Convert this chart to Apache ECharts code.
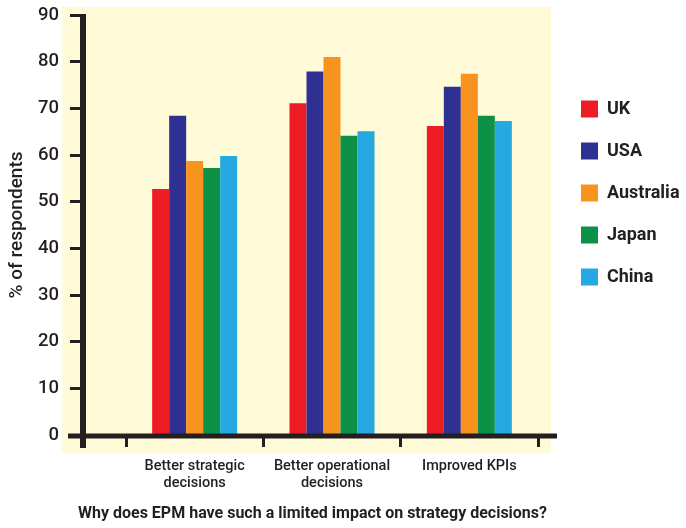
<!DOCTYPE html>
<html>
<head>
<meta charset="utf-8">
<script src="https://cdn.jsdelivr.net/npm/echarts@6/dist/echarts.min.js"></script>
<style>
  html, body { margin: 0; padding: 0; background: #ffffff; }
  #chart { width: 686px; height: 528px; }
</style>
</head>
<body>
<div id="chart"></div>
<script>
// Survey results: share of respondents per country and benefit
const categories = ['Better strategic\ndecisions', 'Better operational\ndecisions', 'Improved KPIs'];
const countries = ['UK', 'USA', 'Australia', 'Japan', 'China'];
const ukValues = [52.7, 71.1, 66.2];
const usaValues = [68.4, 77.9, 74.6];
const australiaValues = [58.7, 81.0, 77.4];
const japanValues = [57.2, 64.1, 68.4];
const chinaValues = [59.8, 65.1, 67.3];
const yTicks = [0, 10, 20, 30, 40, 50, 60, 70, 80, 90];

const seriesValues = [ukValues, usaValues, australiaValues, japanValues, chinaValues];
const colors = ['#EE1C25', '#2E3192', '#F7931E', '#0C9146', '#25A9E0'];
const ink = '#231F20';
const font = 'Roboto, "Liberation Sans", sans-serif';

// plot geometry
const gridLeft = 125, gridRight = 148, gridTop = 15, gridBottom = 93;
const yAxisX = 83;

const chart = echarts.init(document.getElementById('chart'));

chart.setOption({
  animation: false,
  backgroundColor: '#ffffff',
  textStyle: { fontFamily: font },
  title: {
    text: 'Why does EPM have such a limited impact on strategy decisions?',
    left: 78,
    top: 506,
    padding: 0,
    textStyle: { fontSize: 16, fontWeight: 'bold', color: ink, fontFamily: font }
  },
  legend: {
    orient: 'vertical',
    left: 576,
    top: 95,
    itemWidth: 17,
    itemHeight: 17,
    itemGap: 24,
    icon: 'rect',
    data: countries,
    textStyle: { fontSize: 18, fontWeight: 'bold', color: ink, fontFamily: font, padding: [0, 0, 0, 4] }
  },
  grid: {
    left: gridLeft,
    right: gridRight,
    top: gridTop,
    bottom: gridBottom,
    containLabel: false
  },
  xAxis: {
    type: 'category',
    data: categories,
    boundaryGap: true,
    axisLine: { show: false },
    axisTick: { show: true, interval: 0, length: 12, lineStyle: { color: ink, width: 3 } },
    axisLabel: {
      interval: 0,
      margin: 23,
      fontSize: 14.5,
      fontWeight: 500,
      lineHeight: 17,
      color: ink,
      fontFamily: font
    }
  },
  yAxis: {
    type: 'value',
    min: yTicks[0],
    max: yTicks[yTicks.length - 1],
    interval: 10,
    offset: gridLeft - yAxisX,
    name: '% of respondents',
    nameLocation: 'middle',
    nameGap: 57,
    nameTextStyle: { fontSize: 19, fontWeight: 500, color: ink, fontFamily: font },
    axisLine: { show: false },
    axisTick: { show: true, length: 14, lineStyle: { color: ink, width: 3 } },
    splitLine: { show: false },
    axisLabel: { margin: 25, fontSize: 18.5, fontWeight: 500, color: ink, fontFamily: font }
  },
  series: countries.map((name, i) => ({
    name: name,
    type: 'bar',
    data: seriesValues[i],
    barWidth: 17,
    barGap: '0%',
    itemStyle: { color: colors[i] }
  })),
  graphic: [
    {
      type: 'rect',
      z: -10,
      silent: true,
      shape: { x: 62, y: 7, width: 489, height: 446 },
      style: { fill: '#FFFAD7' }
    },
    {
      type: 'line',
      z: 100,
      silent: true,
      shape: { x1: 68, y1: 436, x2: 557, y2: 436 },
      style: { stroke: ink, lineWidth: 5 }
    },
    {
      type: 'line',
      z: 100,
      silent: true,
      shape: { x1: yAxisX, y1: 14, x2: yAxisX, y2: 448 },
      style: { stroke: ink, lineWidth: 6 }
    }
  ]
});
</script>
</body>
</html>
